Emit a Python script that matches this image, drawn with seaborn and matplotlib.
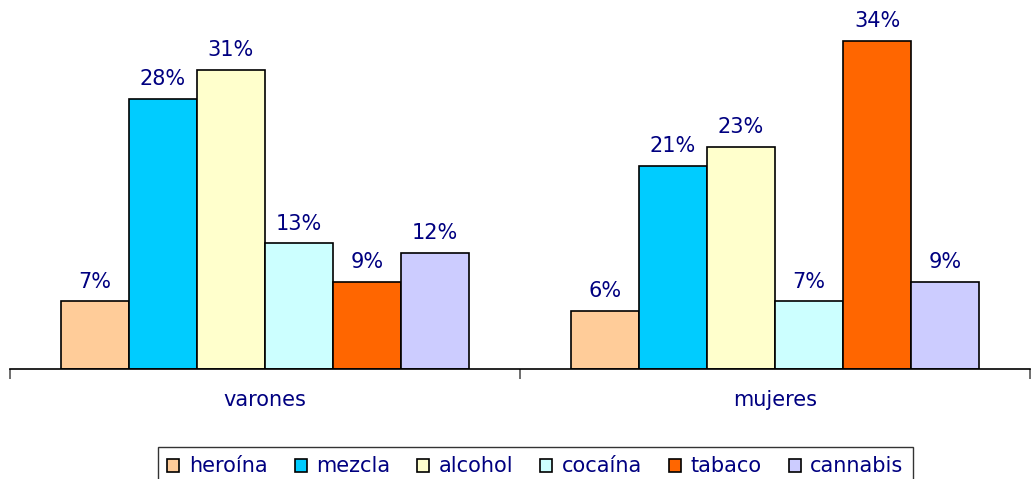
import pandas as pd
import matplotlib.pyplot as plt
import seaborn as sns

grupos = ["varones", "mujeres"]
sustancias = ["heroína", "mezcla", "alcohol", "cocaína", "tabaco", "cannabis"]
varones = [7, 28, 31, 13, 9, 12]
mujeres = [6, 21, 23, 7, 34, 9]
colores = ["#FFCC99", "#00CCFF", "#FFFFCC", "#CCFFFF", "#FF6600", "#CCCCFF"]

df = pd.DataFrame({
    "grupo": [g for g in grupos for _ in sustancias],
    "sustancia": sustancias * 2,
    "pct": varones + mujeres,
})

sns.set_style("white")
plt.rcParams["font.family"] = ["DejaVu Sans"]
navy = "#000080"

fig = plt.figure(figsize=(10.34, 4.79), dpi=100)
ax = fig.add_axes([10 / 1034, 110 / 479, 1020 / 1034, 362 / 479])

sns.barplot(data=df, x="grupo", y="pct", hue="sustancia", order=grupos,
            hue_order=sustancias, palette=colores, width=0.8, gap=0,
            edgecolor="black", linewidth=1.2, saturation=1, ax=ax)

for cont in ax.containers:
    ax.bar_label(cont, labels=[f"{v:.0f}%" for v in cont.datavalues],
                 padding=7, fontsize=15, color=navy)

ax.set_xlim(-0.5, 1.5)
ax.set_ylim(0, 362 / 9.66)
ax.set_xlabel("")
ax.set_ylabel("")
ax.set_yticks([])
for s in ["top", "right", "left"]:
    ax.spines[s].set_visible(False)
ax.spines["bottom"].set_color("black")
ax.spines["bottom"].set_linewidth(1.2)
ax.set_xticks([-0.5, 0.5, 1.5], minor=False)
ax.set_xticklabels(["", "", ""])
ax.set_xticks([0, 1], minor=True)
ax.set_xticklabels(grupos, minor=True, fontsize=15, color=navy)
ax.tick_params(axis="x", which="major", length=7, width=1.2, color="#555555",
               direction="out", bottom=True)
ax.tick_params(axis="x", which="minor", length=0, pad=15)

h, l = ax.get_legend_handles_labels()
ax.get_legend().remove()
leg = fig.legend(h, l, loc="upper left", bbox_to_anchor=(158 / 1034, 1 - 447 / 479),
                 ncol=6, frameon=True, fancybox=False, edgecolor="black",
                 fontsize=15, labelcolor=navy, handlelength=0.58, handleheight=0.58,
                 handletextpad=0.45, columnspacing=1.3, borderpad=0.45,
                 borderaxespad=0)
leg.get_frame().set_linewidth(1.0)
for p in leg.get_patches():
    p.set_edgecolor("black")
    p.set_linewidth(1.2)

fig.savefig("out.png", dpi=100)
